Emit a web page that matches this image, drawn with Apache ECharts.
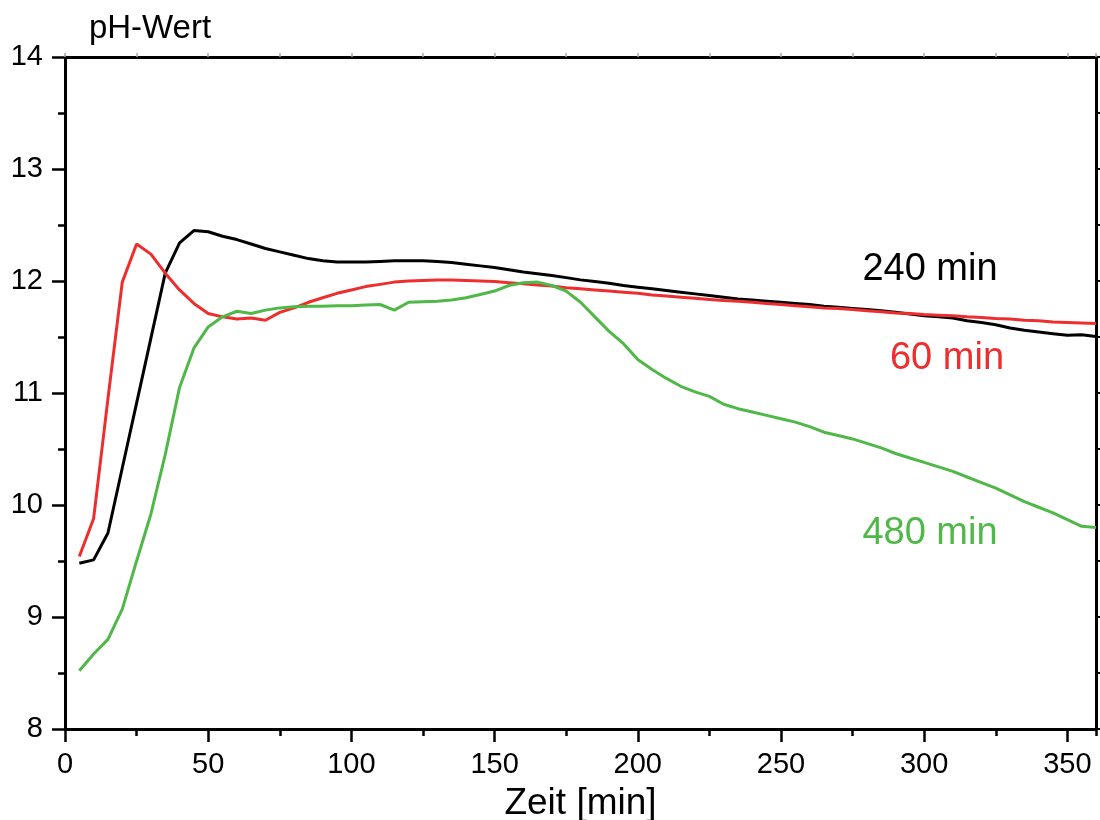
<!DOCTYPE html>
<html>
<head>
<meta charset="utf-8">
<title>pH-Wert</title>
<script src="https://cdn.jsdelivr.net/npm/echarts@6.0.0/dist/echarts.min.js"></script>
<style>
	html, body { margin: 0; padding: 0; background: #fff; }
	#biao-ph { width: 1100px; height: 820px; }
</style>
</head>
<body>
<div id="biao-ph"></div>
<script>
	// Zeit [min]
	var zeit = [5, 10, 15, 20, 25, 30, 35, 40, 45, 50,
		55, 60, 65, 70, 75, 80, 85, 90, 95, 100,
		105, 110, 115, 120, 125, 130, 135, 140, 145, 150,
		155, 160, 165, 170, 175, 180, 185, 190, 195, 200,
		205, 210, 215, 220, 225, 230, 235, 240, 245, 250,
		255, 260, 265, 270, 275, 280, 285, 290, 295, 300,
		305, 310, 315, 320, 325, 330, 335, 340, 345, 350,
		355, 360];
	// pH-Werte je Versuch
	var ph240 = [9.48, 9.51, 9.75, 10.33, 10.91, 11.49, 12.07, 12.34, 12.45, 12.44,
		12.40, 12.37, 12.33, 12.29, 12.26, 12.23, 12.20, 12.18, 12.17, 12.17,
		12.17, 12.175, 12.18, 12.18, 12.18, 12.175, 12.165, 12.15, 12.135, 12.12,
		12.10, 12.08, 12.065, 12.05, 12.03, 12.01, 11.995, 11.98, 11.96, 11.945,
		11.93, 11.915, 11.90, 11.885, 11.87, 11.855, 11.84, 11.83, 11.82, 11.81,
		11.80, 11.79, 11.775, 11.765, 11.755, 11.745, 11.735, 11.72, 11.705, 11.69,
		11.68, 11.67, 11.645, 11.63, 11.61, 11.58, 11.56, 11.545, 11.53, 11.515,
		11.52, 11.505];
	var ph60 = [9.54, 9.88, 10.95, 11.99, 12.33, 12.24, 12.07, 11.92, 11.80, 11.71,
		11.68, 11.66, 11.67, 11.65, 11.72, 11.76, 11.81, 11.85, 11.89, 11.92,
		11.95, 11.97, 11.99, 12.0, 12.005, 12.01, 12.01, 12.005, 12.0, 11.995,
		11.985, 11.975, 11.965, 11.955, 11.94, 11.93, 11.92, 11.91, 11.90, 11.89,
		11.875, 11.865, 11.855, 11.845, 11.835, 11.825, 11.82, 11.81, 11.80, 11.79,
		11.78, 11.77, 11.76, 11.755, 11.745, 11.735, 11.725, 11.715, 11.71, 11.70,
		11.695, 11.69, 11.68, 11.675, 11.665, 11.66, 11.65, 11.645, 11.635, 11.63,
		11.625, 11.62];
	var ph480 = [8.52, 8.67, 8.80, 9.07, 9.50, 9.92, 10.45, 11.05, 11.40, 11.59,
		11.68, 11.73, 11.71, 11.74, 11.76, 11.77, 11.775, 11.775, 11.78, 11.78,
		11.785, 11.79, 11.74, 11.81, 11.815, 11.82, 11.83, 11.85, 11.88, 11.91,
		11.96, 11.985, 11.99, 11.96, 11.91, 11.81, 11.68, 11.55, 11.44, 11.30,
		11.21, 11.13, 11.06, 11.01, 10.97, 10.90, 10.86, 10.83, 10.80, 10.77,
		10.74, 10.70, 10.65, 10.62, 10.59, 10.55, 10.51, 10.46, 10.42, 10.38,
		10.34, 10.30, 10.25, 10.20, 10.15, 10.09, 10.03, 9.98, 9.93, 9.87,
		9.81, 9.80];
	var kurvenNamen = ['240 min', '60 min', '480 min'];
	var farben = ['#000000', '#ee2e2e', '#4fb848'];

	function paare(werte) {
		var d = [];
		for (var i = 0; i < zeit.length; i++) {
			d.push([zeit[i], werte[i]]);
		}
		return d;
	}

	var schrift = 'Liberation Sans, Arial, sans-serif';
	var myChart = echarts.init(document.getElementById('biao-ph'));

	var _series = [];
	var _werte = [ph240, ph60, ph480];
	for (var k = 0; k < _werte.length; k++) {
		_series.push({
			name: kurvenNamen[k],
			type: 'line',
			xAxisIndex: 0,
			yAxisIndex: 0,
			symbol: 'none',
			lineStyle: { color: farben[k], width: 3 },
			data: paare(_werte[k])
		});
	}

	var option = {
		animation: false,
		backgroundColor: '#fff',
		grid: { left: 65, right: 4, top: 57, bottom: 91, outerBoundsMode: 'none' },
		xAxis: [{
			// Hauptachse unten
			type: 'value', position: 'bottom', min: 0, max: 360, interval: 50,
			name: 'Zeit [min]', nameLocation: 'middle', nameGap: 56,
			nameTextStyle: { fontSize: 37, fontFamily: schrift, color: '#000' },
			axisLine: { onZero: false, lineStyle: { color: '#000', width: 3 } },
			axisTick: { length: 13, lineStyle: { color: '#000', width: 2.5 } },
			axisLabel: { fontSize: 29, fontFamily: schrift, color: '#000', margin: 21, showMaxLabel: false },
			splitLine: { show: false }
		}, {
			// Nebenstriche unten
			type: 'value', position: 'bottom', min: 0, max: 360, interval: 25,
			axisLine: { show: false },
			axisTick: { length: 7, lineStyle: { color: '#000', width: 2.5 } },
			axisLabel: { show: false },
			splitLine: { show: false }
		}, {
			// Rahmen oben
			type: 'value', position: 'top', min: 0, max: 360, interval: 25,
			axisLine: { onZero: false, lineStyle: { color: '#000', width: 3 } },
			axisTick: { length: 4, lineStyle: { color: '#aaa', width: 1.5 } },
			axisLabel: { show: false },
			splitLine: { show: false }
		}],
		yAxis: [{
			type: 'value', position: 'left', min: 8, max: 14, interval: 1,
			axisLine: { onZero: false, lineStyle: { color: '#000', width: 3 } },
			axisTick: { length: 13, lineStyle: { color: '#000', width: 2.5 } },
			minorTick: { show: true, splitNumber: 2, length: 7, lineStyle: { color: '#000', width: 2.5 } },
			axisLabel: { fontSize: 29, fontFamily: schrift, color: '#000', margin: 22 },
			splitLine: { show: false }
		}, {
			// Rahmen rechts
			type: 'value', position: 'right', min: 8, max: 14, interval: 0.5,
			axisLine: { onZero: false, lineStyle: { color: '#000', width: 3 } },
			axisTick: { length: 4, lineStyle: { color: '#000', width: 2 } },
			axisLabel: { show: false },
			splitLine: { show: false }
		}],
		graphic: [{
			type: 'text', x: 150, y: 29,
			style: { text: 'pH-Wert', fontSize: 33, fontFamily: schrift, fill: '#000', align: 'center', verticalAlign: 'middle' }
		}, {
			type: 'text', x: 930, y: 270,
			style: { text: kurvenNamen[0], fontSize: 38, fontFamily: schrift, fill: farben[0], align: 'center', verticalAlign: 'middle' }
		}, {
			type: 'text', x: 947, y: 359,
			style: { text: kurvenNamen[1], fontSize: 38, fontFamily: schrift, fill: farben[1], align: 'center', verticalAlign: 'middle' }
		}, {
			type: 'text', x: 930, y: 534,
			style: { text: kurvenNamen[2], fontSize: 38, fontFamily: schrift, fill: farben[2], align: 'center', verticalAlign: 'middle' }
		}],
		series: _series
	};

	myChart.setOption(option);
</script>
</body>
</html>
